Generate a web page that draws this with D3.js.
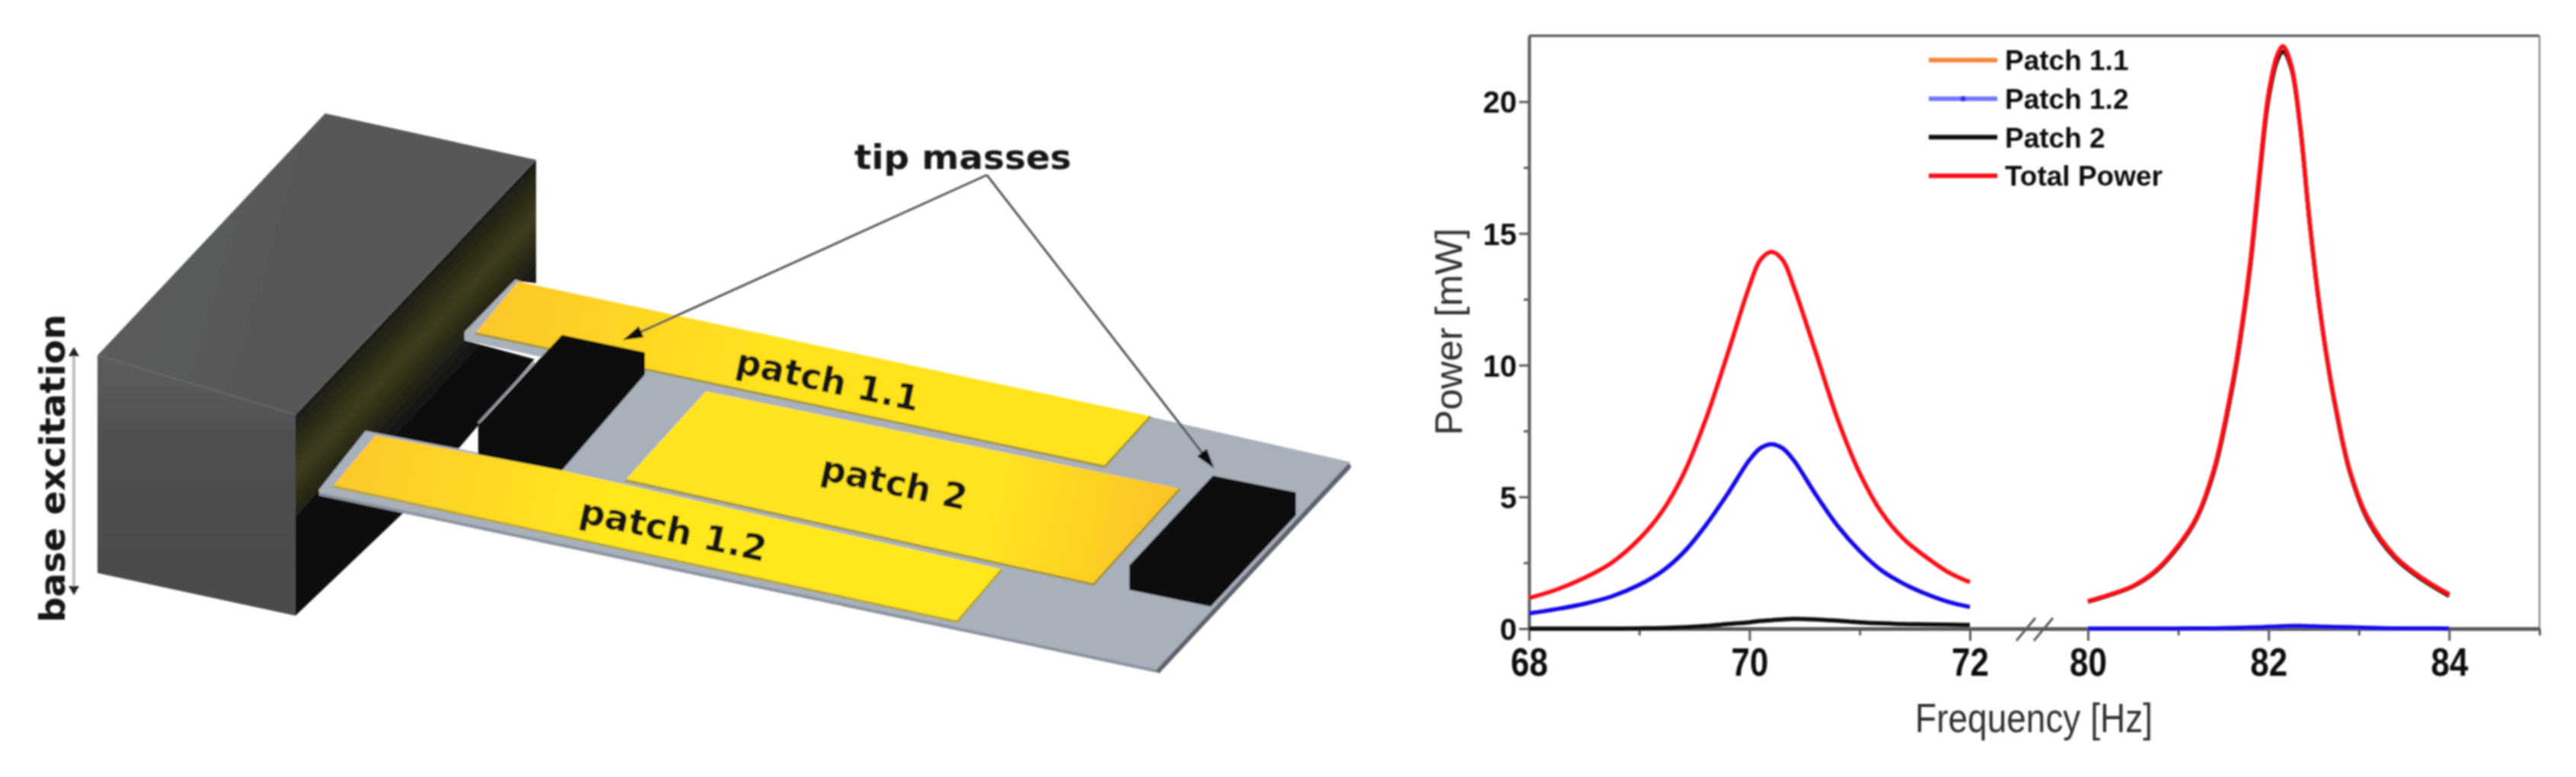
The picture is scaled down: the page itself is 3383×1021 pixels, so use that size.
<!DOCTYPE html>
<html>
<head>
<meta charset="utf-8">
<script src="https://cdn.jsdelivr.net/npm/d3@7"></script>
<style>
  html, body { margin: 0; padding: 0; background: #fff; }
  svg { display: block; }
  text { font-family: "Liberation Sans", Arial, sans-serif; }
  .device-label { font-family: "DejaVu Sans", sans-serif; font-weight: bold; fill: #141414; }
  .axis path, .axis line { stroke: #5a5a5a; }
  .axis text { font-weight: bold; fill: #111; }
</style>
</head>
<body>
<svg id="figure" width="3383" height="1021"></svg>
<script>
// left side of the broken axis, 68-72 Hz
let freqLeft = [68, 68.25, 68.5, 68.75, 69, 69.2, 69.4, 69.6, 69.8, 70, 70.1, 70.2, 70.3, 70.4, 70.6, 70.8, 71, 71.2, 71.4, 71.6, 71.8, 72];
let totalLeft = [1.16, 1.48, 1.92, 2.5, 3.4, 4.4, 5.85, 7.9, 10.4, 13.0, 14.0, 14.3, 14.0, 13.0, 10.5, 7.95, 5.9, 4.4, 3.4, 2.72, 2.15, 1.76];
let patch11Left = [0.58, 0.74, 0.94, 1.22, 1.66, 2.15, 2.88, 3.9, 5.1, 6.4, 6.85, 7.0, 6.85, 6.4, 5.1, 3.9, 2.95, 2.2, 1.7, 1.32, 1.02, 0.82];
let patch12Left = [0.58, 0.74, 0.94, 1.22, 1.66, 2.15, 2.88, 3.9, 5.1, 6.4, 6.85, 7.0, 6.85, 6.4, 5.1, 3.9, 2.95, 2.2, 1.7, 1.32, 1.02, 0.82];
let patch2Left = [0, 0, 0, 0, 0.01, 0.02, 0.05, 0.1, 0.17, 0.24, 0.29, 0.32, 0.35, 0.37, 0.35, 0.3, 0.24, 0.2, 0.17, 0.16, 0.15, 0.14];

// right side, 80-84 Hz
let freqRight = [80, 80.25, 80.5, 80.75, 81, 81.2, 81.4, 81.6, 81.7, 81.8, 81.9, 82, 82.1, 82.16, 82.25, 82.35, 82.45, 82.55, 82.65, 82.75, 82.9, 83.1, 83.4, 83.7, 84];
let totalRight = [1.04, 1.3, 1.62, 2.2, 3.15, 4.2, 6.1, 9.3, 11.4, 14.0, 17.3, 20.3, 21.8, 22.1, 21.4, 19.1, 15.6, 12.6, 10.2, 8.3, 6.0, 4.2, 2.75, 1.92, 1.3];
let patch2Right = [1.02, 1.28, 1.6, 2.16, 3.1, 4.15, 6.0, 9.15, 11.25, 13.8, 17.1, 20.1, 21.6, 21.9, 21.3, 19.05, 15.6, 12.6, 10.2, 8.25, 5.95, 4.12, 2.68, 1.86, 1.24];
let patch11Right = [0, 0, 0, 0, 0, 0.01, 0.01, 0.02, 0.03, 0.04, 0.05, 0.07, 0.08, 0.09, 0.1, 0.1, 0.09, 0.08, 0.07, 0.06, 0.05, 0.03, 0.01, 0.01, 0];
let patch12Right = [0, 0, 0, 0, 0, 0.01, 0.01, 0.02, 0.03, 0.04, 0.05, 0.07, 0.08, 0.09, 0.1, 0.1, 0.09, 0.08, 0.07, 0.06, 0.05, 0.03, 0.01, 0.01, 0];

let seriesNames = ['Patch 1.1', 'Patch 1.2', 'Patch 2', 'Total Power'];
let seriesColors = ['#f5873a', '#0a0aee', '#0c0c0c', '#fb0a12'];
let legendColors = ['#f5873a', '#7676fb', '#0c0c0c', '#fb0a12'];
let seriesLeft = [patch11Left, patch12Left, patch2Left, totalLeft];
let seriesRight = [patch11Right, patch12Right, patch2Right, totalRight];

let xMajor = [68, 70, 72, 80, 82, 84];
let xMinor = [69, 71, 81, 83, 85];
let yMajor = [0, 5, 10, 15, 20];
let yMinor = [2.5, 7.5, 12.5, 17.5];

// device sketch outlines, in page pixels
let blockTop = [[427,149],[704,210],[388,545],[128,467]];
let blockFront = [[128,467],[388,545],[388,809],[128,753]];
let blockSide = [[704,210],[704,372],[677,369],[610,447],[702,472],[600,592],[483,572],[388,680],[388,545]];
let blockWedge = [[388,640],[540,664],[388,809]];
let plateMain = [[1512,548],[1773,607],[1773,617],[1520,883],[1250,825],[821,640],[737,616],[847,480]];
let plateBar1 = [[677,367],[610,436],[610,447],[724,472],[738,450],[690,372]];
let plateBar2 = [[480,566],[419,643],[419,650],[1520,883],[1316,748],[738,616]];
let yellow11 = [[680,370],[1511,547],[1451,613],[624,438]];
let yellow2 = [[927,514],[1550,642],[1436,768],[821,631]];
let yellow12 = [[493,572],[738,618],[1316,748],[1257,817],[437,639]];
let massLeft = [[738,440],[847,463],[847,492],[738,618],[628,597],[628,559]];
let massRight = [[1593,625],[1702,647],[1702,677],[1590,797],[1483,775],[1483,743]];
let arrowRoot = [1296, 230];
let arrowTips = [[822,445],[1592,612]];

let svg = d3.select('#figure');
let defs = svg.append('defs');

function gradient(id, x1, y1, x2, y2, stops) {
  let g = defs.append('linearGradient').attr('id', id)
    .attr('gradientUnits', 'userSpaceOnUse')
    .attr('x1', x1).attr('y1', y1).attr('x2', x2).attr('y2', y2);
  stops.forEach(s => g.append('stop').attr('offset', s[0]).attr('stop-color', s[1]));
}

gradient('sideFill', 546, 377, 630, 456, [[0, '#1c1c14'], [0.45, '#3e3c1c'], [1, '#111111']]);
gradient('topFill', 128, 467, 388, 545, [[0, '#5b5d5c'], [1, '#565857']]);
gradient('frontFill', 128, 500, 128, 800, [[0, '#5a5b5c'], [0.25, '#4f5051'], [1, '#4b4b4c']]);
gradient('yellow11Fill', 640, 400, 1000, 480, [[0, '#fdc72a'], [1, '#ffe31f']]);
gradient('yellow2Fill', 1300, 650, 1520, 700, [[0, '#ffe422'], [1, '#fdc426']]);
gradient('yellow12Fill', 450, 600, 800, 680, [[0, '#fdc82b'], [1, '#ffe81e']]);
defs.append('filter').attr('id', 'soft').attr('x', '-5%').attr('y', '-5%').attr('width', '110%').attr('height', '110%')
  .append('feGaussianBlur').attr('stdDeviation', 0.9);

let outline = d3.line();

function drawDevice() {
  let g = svg.append('g').attr('filter', 'url(#soft)');

  function poly(points, fill) {
    g.append('path').attr('d', outline(points) + 'Z').attr('fill', fill);
  }
  function stroke(points, color, width) {
    g.append('path').attr('d', outline(points)).attr('fill', 'none').attr('stroke', color).attr('stroke-width', width);
  }

  poly(blockWedge, '#111');
  poly(blockSide, 'url(#sideFill)');
  poly(plateMain, '#a8b0bc');
  poly(plateBar1, '#a8b0bc');
  poly(plateBar2, '#a8b0bc');
  stroke([[419,649],[1520,882]], '#8b93a0', 4);
  stroke([[1773,611],[1520,883]], '#5f646e', 6);

  poly(yellow11, 'url(#yellow11Fill)');
  poly(yellow12, 'url(#yellow12Fill)');
  poly(yellow2, 'url(#yellow2Fill)');
  stroke([[624,438],[1451,613],[1511,547]], '#a29338', 3);
  stroke([[821,631],[1436,768],[1550,642]], '#a29338', 3);
  stroke([[437,639],[1257,817],[1316,748]], '#b3a338', 3);

  stroke([[702,476],[628,556]], '#8a8f98', 3);
  poly(massLeft, '#111');
  poly(massRight, '#111');

  poly(blockTop, 'url(#topFill)');
  poly(blockFront, 'url(#frontFill)');

  // leader lines of the tip masses
  arrowTips.forEach(tip => {
    stroke([arrowRoot, tip], '#55585c', 3);
    let a = Math.atan2(tip[1] - arrowRoot[1], tip[0] - arrowRoot[0]);
    let len = 22, half = 8;
    poly([
      [tip[0] + 4 * Math.cos(a), tip[1] + 4 * Math.sin(a)],
      [tip[0] - len * Math.cos(a) - half * Math.sin(a), tip[1] - len * Math.sin(a) + half * Math.cos(a)],
      [tip[0] - len * Math.cos(a) + half * Math.sin(a), tip[1] - len * Math.sin(a) - half * Math.cos(a)]
    ], '#111');
  });

  // base excitation arrow
  stroke([[97,465],[97,773]], '#bdbdbd', 4);
  poly([[97,456],[104,468],[90,468]], '#222');
  poly([[97,782],[104,770],[90,770]], '#222');

  let labels = [
    { text: 'patch 1.1', x: 1084, y: 515, size: 46, rot: 12, len: 245 },
    { text: 'patch 2', x: 1171, y: 650, size: 46, rot: 12, len: 195 },
    { text: 'patch 1.2', x: 881, y: 712, size: 46, rot: 12, len: 250 }
  ];
  labels.forEach(l => {
    g.append('text').attr('class', 'device-label')
      .attr('transform', `translate(${l.x},${l.y}) rotate(${l.rot})`)
      .attr('text-anchor', 'middle')
      .attr('font-size', l.size)
      .attr('textLength', l.len).attr('lengthAdjust', 'spacingAndGlyphs')
      .text(l.text);
  });

  g.append('text').attr('class', 'device-label')
    .attr('x', 1122).attr('y', 222).attr('font-size', 44)
    .attr('textLength', 285).attr('lengthAdjust', 'spacingAndGlyphs')
    .text('tip masses');

  g.append('text').attr('class', 'device-label')
    .attr('transform', 'translate(85,818) rotate(-90)')
    .attr('font-size', 46)
    .attr('textLength', 405).attr('lengthAdjust', 'spacingAndGlyphs')
    .text('base excitation');
}

function drawChart() {
  let x = d3.scaleLinear().domain([68, 72, 80, 85]).range([2008, 2587, 2742, 3335]);
  let y = d3.scaleLinear().domain([0, 22.5]).range([826, 47]);

  let g = svg.append('g').attr('filter', 'url(#soft)');

  // frame
  g.append('line').attr('x1', x(68)).attr('x2', x(85)).attr('y1', y(22.5)).attr('y2', y(22.5))
    .attr('stroke', '#4a4a4a').attr('stroke-width', 3);
  g.append('line').attr('x1', x(85)).attr('x2', x(85)).attr('y1', y(22.5)).attr('y2', y(0))
    .attr('stroke', '#777').attr('stroke-width', 2);

  let xAxis = g.append('g').attr('class', 'axis').attr('transform', `translate(0,${y(0)})`)
    .call(d3.axisBottom(x).tickValues(xMajor).tickSize(16).tickSizeOuter(0).tickFormat(d3.format('d')));
  xAxis.select('.domain').attr('stroke-width', 5);
  xAxis.selectAll('.tick line').attr('stroke-width', 3);
  xAxis.selectAll('.tick text')
    .attr('font-size', 44)
    .attr('dy', 0).attr('y', 53)
    .attr('transform', 'scale(1,1.17)');

  let xMinorAxis = g.append('g').attr('class', 'axis').attr('transform', `translate(0,${y(0)})`)
    .call(d3.axisBottom(x).tickValues(xMinor).tickSize(9).tickSizeOuter(0).tickFormat(''));
  xMinorAxis.select('.domain').remove();
  xMinorAxis.selectAll('.tick line').attr('stroke-width', 3);

  let yAxis = g.append('g').attr('class', 'axis').attr('transform', `translate(${x(68)},0)`)
    .call(d3.axisLeft(y).tickValues(yMajor).tickSize(13).tickSizeOuter(0).tickFormat(d3.format('d')));
  yAxis.select('.domain').attr('stroke-width', 4);
  yAxis.selectAll('.tick line').attr('stroke-width', 3);
  yAxis.selectAll('.tick text').attr('font-size', 40).attr('dy', '.36em');

  let yMinorAxis = g.append('g').attr('class', 'axis').attr('transform', `translate(${x(68)},0)`)
    .call(d3.axisLeft(y).tickValues(yMinor).tickSize(7).tickSizeOuter(0).tickFormat(''));
  yMinorAxis.select('.domain').remove();
  yMinorAxis.selectAll('.tick line').attr('stroke-width', 3);

  // axis break marks
  [2660, 2683].forEach(cx => {
    g.append('line').attr('x1', cx - 12).attr('x2', cx + 13).attr('y1', y(0) + 16).attr('y2', y(0) - 14)
      .attr('stroke', '#5a5a5a').attr('stroke-width', 3);
  });

  let line = d3.line().x(d => x(d[0])).y(d => y(d[1])).curve(d3.curveCatmullRom.alpha(0.5));
  seriesNames.forEach((name, i) => {
    [[freqLeft, seriesLeft[i]], [freqRight, seriesRight[i]]].forEach(part => {
      g.append('path')
        .datum(d3.zip(part[0], part[1]))
        .attr('d', line)
        .attr('fill', 'none')
        .attr('stroke', seriesColors[i])
        .attr('stroke-width', 5.5);
    });
  });

  // legend
  let legendY = d3.scalePoint().domain(seriesNames).range([79, 231]);
  seriesNames.forEach((name, i) => {
    g.append('line').attr('x1', 2533).attr('x2', 2623)
      .attr('y1', legendY(name)).attr('y2', legendY(name))
      .attr('stroke', legendColors[i]).attr('stroke-width', 6);
    g.append('text').attr('x', 2633).attr('y', legendY(name)).attr('dy', '.36em')
      .attr('font-size', 37).attr('font-weight', 'bold').attr('fill', '#111')
      .text(name);
  });
  g.append('circle').attr('cx', 2578).attr('cy', legendY('Patch 1.2')).attr('r', 3.5).attr('fill', '#2a2af5');

  // axis titles
  g.append('text').attr('transform', 'translate(2671,962) scale(1,1.15)').attr('text-anchor', 'middle')
    .attr('font-size', 46).attr('fill', '#333').text('Frequency [Hz]');
  g.append('text').attr('transform', 'translate(1920,436) rotate(-90)').attr('text-anchor', 'middle')
    .attr('font-size', 50).attr('fill', '#333').text('Power [mW]');
}

drawDevice();
drawChart();
</script>
</body>
</html>
